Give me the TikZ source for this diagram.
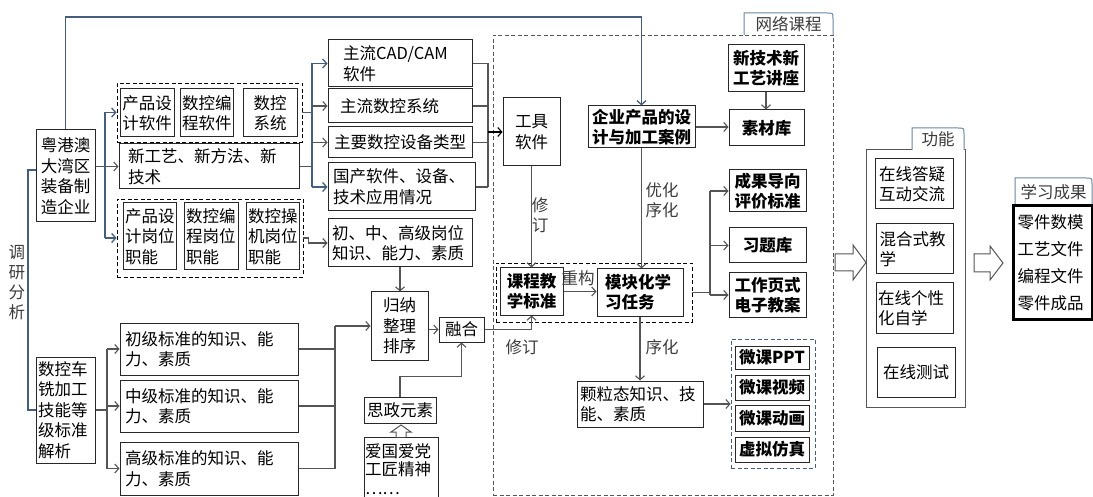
\documentclass[tikz,border=0pt]{standalone}
\usepackage{fontspec}
\setmainfont{Noto Sans CJK SC}
\usetikzlibrary{arrows.meta}
\definecolor{bl}{RGB}{68,94,124}
\definecolor{gl}{RGB}{85,85,85}
\definecolor{tabc}{RGB}{110,135,160}
\definecolor{bd}{RGB}{40,40,40}
\definecolor{lt}{RGB}{60,60,60}
\tikzset{
 bx/.style={draw=bd, line width=1pt, inner sep=0pt, align=center, font=\fontsize{16.5}{20.5}\selectfont},
 bb/.style={font=\fontsize{16.5}{20}\selectfont\bfseries},
 grp/.style={draw=black, line width=0.9pt, dash pattern=on 4pt off 2.5pt},
 conn/.style={draw=gl, line width=1.1pt},
 bconn/.style={draw=bl, line width=1.3pt},
 arr/.style={-{Straight Barb[length=4pt,width=9pt]}},
 lbl/.style={font=\fontsize{16.5}{20}\selectfont, text=lt, inner sep=0pt, align=center},
 tab/.style={draw=tabc, line width=1pt, fill=white},
 hol/.style={draw=gl, line width=1pt, fill=white},
}
\newcommand\mybox[7]{%
 \pgfmathsetmacro\mbw{#4-#2}%
 \pgfmathsetmacro\mbh{#5-#3}%
 \pgfmathsetmacro\mbx{(#2+#4)/2}%
 \pgfmathsetmacro\mby{(#3+#5)/2}%
 \pgfmathsetmacro\mbt{#4-#2-4}%
 \node[bx,minimum width=\mbw pt,minimum height=\mbh pt,text width=\mbt pt,#6] (#1) at (\mbx,\mby) {#7};}
\begin{document}
\begin{tikzpicture}[x=1pt,y=-1pt]
\useasboundingbox (0,0) rectangle (1093,497);
\fill[white] (0,0) rectangle (1093,497);
\clip (0,0) rectangle (1093,497);

% ---------- left column ----------
\mybox{yga}{36}{130}{95}{222}{}{粤港澳\\大湾区\\装备制\\造企业}
\mybox{skc}{36}{357}{95}{463}{align=left}{数控车\\铣加工\\技能等\\级标准\\解析}
\node[lbl] (ldy) at (17,282) {调\\研\\分\\析};
\coordinate (brt) at (28,170);
\coordinate (brb) at (28,410);
\draw[bconn] (yga.west |- brt) -- (brt) -- (brb) -- (skc.west |- brb);

% ---------- second column ----------
\mybox{g1}{117}{83}{302}{142}{grp}{}
\mybox{cpsr}{120}{89}{174}{137}{}{产品设\\计软件}
\mybox{skbc}{180}{89}{233}{137}{}{数控编\\程软件}
\mybox{skxt}{243}{89}{297}{137}{}{数控\\系统}
\mybox{xgy}{119}{144}{299}{189}{align=left,text width=162pt}{新工艺、新方法、新\\技术}
\mybox{g2}{117}{199}{303}{277}{grp}{}
\mybox{cpgw}{123}{203}{176}{270}{align=left}{产品设\\计岗位\\职能}
\mybox{bcgw}{184}{203}{238}{270}{align=left}{数控编\\程岗位\\职能}
\mybox{cjgw}{246}{203}{299}{270}{align=left}{数控操\\机岗位\\职能}
\mybox{chuji}{120}{323}{298}{375}{align=left,text width=168pt}{初级标准的知识、能\\力、素质}
\mybox{zhongji}{120}{380}{298}{432}{align=left,text width=168pt}{中级标准的知识、能\\力、素质}
\mybox{gaoji}{120}{442}{298}{495}{align=left,text width=168pt}{高级标准的知识、能\\力、素质}

% ---------- third column ----------
\mybox{cad}{328}{40}{472}{87}{align=left,text width=114pt}{主流CAD/CAM\\软件}
\mybox{zlxt}{328}{89}{472}{123}{align=left,text width=120pt}{主流数控系统}
\mybox{zysb}{328}{127}{472}{158}{}{主要数控设备类型}
\mybox{gcrj}{328}{163}{475}{211}{align=left,text width=137pt}{国产软件、设备、\\技术应用情况}
\mybox{gwzs}{328}{219}{472}{267}{align=left,text width=136pt}{初、中、高级岗位\\知识、能力、素质}
\mybox{gn}{371}{292}{428}{360}{}{归纳\\整理\\排序}
\mybox{rh}{439}{317}{484}{342}{}{融合}
\mybox{sz}{364}{397}{436}{423}{}{思政元素}
\mybox{ag}{364}{437}{438}{501}{align=left,text width=72pt,font=\fontsize{16.5}{18.5}\selectfont}{爱国爱党\\工匠精神\\……}
\draw[hol] (396,437) -- (396,432) -- (391,432) -- (401,425) -- (411,432) -- (406,432) -- (406,437);

% ---------- network course ----------
\mybox{wl}{493}{35}{833}{495}{grp,draw=gl}{}
\draw[tab] (744,35) -- (744,13) -- (827,13) .. controls (833,13) .. (833,19) -- (833,35);
\node[lbl] (twl) at (788.5,24) {网络课程};
\mybox{tool}{503}{98}{560}{166}{}{工具\\软件}
\mybox{qiye}{588}{106}{695}{148}{bb}{企业产品的设\\计与加工案例}
\mybox{xjs}{728}{45}{804}{92}{bb}{新技术新\\工艺讲座}
\mybox{sck}{729}{110}{804}{146}{bb}{素材库}
\mybox{cg}{729}{170}{806}{212}{bb}{成果导向\\评价标准}
\mybox{xtk}{729}{228}{806}{263}{bb}{习题库}
\mybox{gzy}{729}{273}{806}{317}{bb}{工作页式\\电子教案}
\mybox{gk}{496}{263}{692}{322}{grp}{}
\mybox{kc}{500}{268}{563}{315}{bb}{课程教\\学标准}
\mybox{mk}{597}{269}{683}{316}{bb,align=left,text width=70pt}{模块化学\\习任务}
\mybox{kl}{577}{381}{703}{427}{align=left,text width=120pt}{颗粒态知识、技\\能、素质}
\mybox{mg}{731}{339}{815}{468}{grp,draw=bl}{}
\mybox{wppt}{735}{346}{809}{369}{bb}{微课PPT}
\mybox{wsp}{735}{375}{809}{400}{bb}{微课视频}
\mybox{wdh}{735}{405}{809}{431}{bb}{微课动画}
\mybox{xn}{735}{437}{809}{462}{bb}{虚拟仿真}
\node[lbl] (lxd) at (540,215) {修\\订};
\node[lbl] (lyh) at (662,200) {优化\\序化};
\node[lbl] (lcg) at (578,278) {重构};
\node[lbl] (lxd2) at (522,347) {修订};
\node[lbl] (lxh) at (662,347) {序化};

% ---------- function ----------
\draw[hol] (835,254) -- (853,254) -- (853,245) -- (866,262.5) -- (853,280) -- (853,271) -- (835,271) -- cycle;
\mybox{fn}{866}{150}{965}{407}{draw=gl}{}
\draw[tab] (912,150) -- (912,128) -- (958,128) .. controls (964,128) .. (964,134) -- (964,150);
\node[lbl] (tfn) at (938,139) {功能};
\mybox{f1}{875}{159}{953}{209}{align=left,text width=70pt}{在线答疑\\互动交流}
\mybox{f2}{876}{224}{953}{274}{align=left,text width=70pt}{混合式教\\学}
\mybox{f3}{876}{283}{953}{333}{align=left,text width=73pt}{在线个性\\化自学}
\mybox{f4}{877}{347}{955}{397}{}{在线测试}
\draw[hol] (974,254) -- (990,254) -- (990,246) -- (1003,263) -- (990,280) -- (990,272) -- (974,272) -- cycle;

% ---------- learning outcomes ----------
\draw[tab] (1015,206) -- (1015,178) -- (1086,178) .. controls (1092,178) .. (1092,184) -- (1092,206);
\node[lbl] (txx) at (1053.5,192) {学习成果};
\mybox{xx}{1013}{206}{1092}{319}{line width=3pt,draw=black,align=left,text width=70pt,font=\fontsize{16.5}{27}\selectfont}{零件数模\\工艺文件\\编程文件\\零件成品}

% ---------- connectors ----------
\coordinate (ytop) at (0,17);
\draw[bconn,arr] (yga.north) -- (yga.north |- ytop) -| (qiye.north);

\coordinate (jy) at (105,0);
\draw[conn,arr] (yga.east |- xgy.west) -- (xgy.west);
\draw[bconn] (jy |- g1.west) -- (jy |- g2.west);
\draw[bconn,arr] (jy |- g1.west) -- (g1.west);
\draw[bconn,arr] (jy |- g2.west) -- (g2.west);

\coordinate (j1) at (312,0);
\draw[bconn] (g1.east) -- (j1 |- g1.east);
\draw[conn] (xgy.east) -- (j1 |- xgy.east);
\draw[bconn] (j1 |- cad.west) -- (j1 |- gcrj.west);
\draw[bconn,arr] (j1 |- cad.west) -- (cad.west);
\draw[conn,arr] (j1 |- zlxt.west) -- (zlxt.west);
\draw[conn,arr] (j1 |- zysb.west) -- (zysb.west);
\draw[bconn,arr] (j1 |- gcrj.west) -- (gcrj.west);

\coordinate (j2) at (488,0);
\draw[conn] (cad.east) -- (j2 |- cad.east);
\draw[conn] (zlxt.east) -- (j2 |- zlxt.east);
\draw[conn] (zysb.east) -- (j2 |- zysb.east);
\draw[conn] (gcrj.east) -- (j2 |- gcrj.east);
\draw[conn] (j2 |- cad.east) -- (j2 |- gcrj.east);
\draw[conn,draw=black,arr] (j2 |- tool.west) -- (tool.west);

\draw[conn,arr] (g2.east) -- ++(5,0) |- (gwzs.west);
\draw[conn,arr] (gwzs.south) -- (gwzs.south |- gn.north);

\coordinate (j3) at (107,0);
\draw[conn] (skc.east) -- (j3 |- skc.east);
\draw[conn] (j3 |- chuji.west) -- (j3 |- gaoji.west);
\draw[conn,arr] (j3 |- chuji.west) -- (chuji.west);
\draw[conn,arr] (j3 |- zhongji.west) -- (zhongji.west);
\draw[conn,arr] (j3 |- gaoji.west) -- (gaoji.west);

\coordinate (j4) at (335,0);
\draw[conn] (chuji.east) -- (j4 |- chuji.east);
\draw[conn] (zhongji.east) -- (j4 |- zhongji.east);
\draw[conn] (gaoji.east) -- (j4 |- gaoji.east);
\draw[conn] (j4 |- gn.west) -- (j4 |- gaoji.east);
\draw[conn,arr] (j4 |- gn.west) -- (gn.west);

\draw[conn,arr] (gn.east |- rh.west) -- (rh.west);
\draw[conn,arr] (sz.north) -- ++(0,-20) -| (rh.south);
\draw[conn,arr] (rh.east) -| (kc.south);
\draw[conn,arr] (tool.south) -- (tool.south |- kc.north);
\draw[conn,arr] (kc.east) -- (mk.west |- kc.east);
\draw[conn,arr] (qiye.east) -- (sck.west |- qiye.east);
\draw[conn,arr] (xjs.south) -- (xjs.south |- sck.north);
\draw[conn,arr] (qiye.south) -- (qiye.south |- mk.north);
\draw[conn,arr] (mk.south) -- (mk.south |- kl.north);

\coordinate (j5) at (710,0);
\draw[conn] (gk.east) -- (j5 |- gk.east);
\draw[conn] (j5 |- cg.west) -- (j5 |- gzy.west);
\draw[conn,arr] (j5 |- cg.west) -- (cg.west);
\draw[conn,arr] (j5 |- xtk.west) -- (xtk.west);
\draw[conn,arr] (j5 |- gzy.west) -- (gzy.west);

\draw[conn,arr] (kl.east) -- (mg.west |- kl.east);
\end{tikzpicture}
\end{document}
